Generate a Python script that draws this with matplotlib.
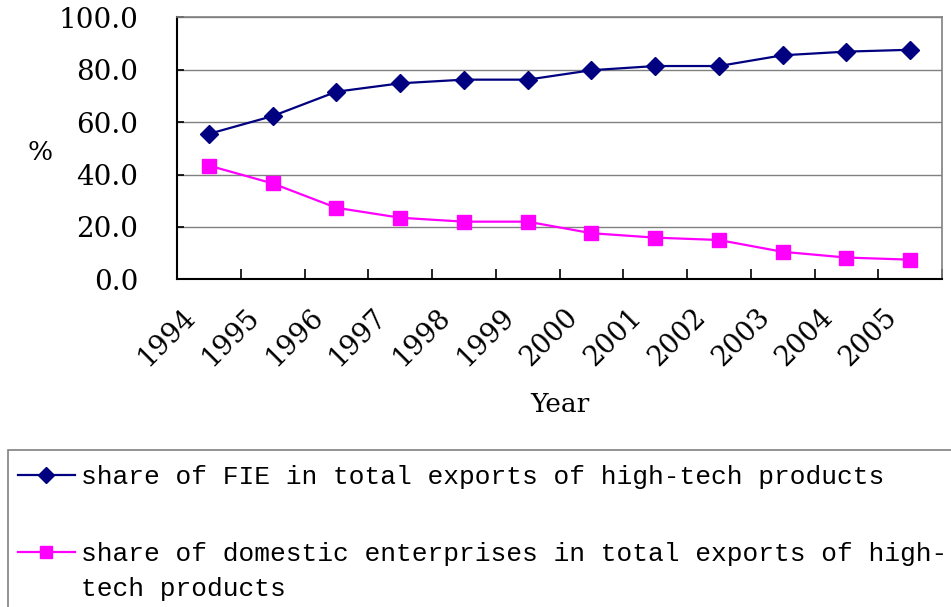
import matplotlib
matplotlib.use("Agg")
import matplotlib.pyplot as plt
import matplotlib.transforms as mtransforms
from matplotlib.patches import Rectangle
import numpy as np

years = ["1994", "1995", "1996", "1997", "1998", "1999", "2000", "2001", "2002", "2003", "2004", "2005"]
fie_share = [55.5, 62.3, 71.6, 74.8, 76.2, 76.2, 79.8, 81.4, 81.4, 85.5, 86.9, 87.6]
domestic_share = [43.4, 36.6, 27.3, 23.5, 22.0, 22.0, 17.6, 15.9, 15.0, 10.5, 8.3, 7.5]
yticks = [0, 20, 40, 60, 80, 100]
label_fie = "share of FIE in total exports of high-tech products"
label_dom_1 = "share of domestic enterprises in total exports of high-"
label_dom_2 = "tech products"

FONT = "DejaVu Serif"
MONO = "Liberation Mono"
plt.rcParams["font.family"] = [FONT, "DejaVu Sans"]

fig = plt.figure(figsize=(9.51, 6.07), dpi=100)
ax = fig.add_axes([177/951, 1-279.3/607, (942-177)/951, (279.3-17.3)/607])

x = np.arange(len(years))
l1, = ax.plot(x, fie_share, color="#000080", lw=1.6, marker="D", markersize=9.5, zorder=3)
l2, = ax.plot(x, domestic_share, color="#FF00FF", lw=1.6, marker="s", markersize=10, zorder=3)

ax.set_xlim(-0.5, len(years) - 0.5)
ax.set_ylim(0, 100)
ax.set_yticks(yticks)
ax.set_yticklabels([f"{v:.1f}" for v in yticks], fontsize=20)
ax.yaxis.grid(True, color="#808080", lw=1)
ax.set_axisbelow(True)

ax.set_xticks(x)
ax.set_xticklabels(years, fontsize=19.5, rotation=45, ha="right", va="center", rotation_mode="anchor")
ax.tick_params(axis="x", which="major", length=0, pad=0)
offset = mtransforms.ScaledTranslation(-12.5/72, -24/72, fig.dpi_scale_trans)
for lab in ax.get_xticklabels():
    lab.set_transform(lab.get_transform() + offset)
ax.set_xticks(np.arange(-0.5, len(years)), minor=True)
ax.tick_params(axis="x", which="minor", direction="in", length=7, width=1.2, color="black")
ax.tick_params(axis="y", direction="in", length=5, width=1.2, pad=28)

for s in ["top", "right"]:
    ax.spines[s].set_color("#808080")
    ax.spines[s].set_linewidth(1.2)
for s in ["left", "bottom"]:
    ax.spines[s].set_color("black")
    ax.spines[s].set_linewidth(1.5)

ax.set_xlabel("Year", fontsize=19, va="center")
ax.xaxis.set_label_coords(0.5, (279.3 - 405) / 262)
ax.set_ylabel("%", fontsize=19, rotation=0, va="center", ha="center")
ax.yaxis.set_label_coords((40 - 177) / 765, (279.3 - 152) / 262)

fig.patches.append(Rectangle((8/951, -0.02), 1.0, (1 - 450/607) + 0.02,
                             transform=fig.transFigure, fill=False, edgecolor="#808080", lw=1.2))

LEG_SIZE = 18.9
leg = fig.legend([l1, l2], [label_fie, label_dom_1], loc="upper left",
                 bbox_to_anchor=(18/951, 1 - 465/607), frameon=False,
                 prop={"family": MONO, "size": LEG_SIZE},
                 handlelength=2.17, handletextpad=0.24, labelspacing=2.03,
                 borderaxespad=0, borderpad=0, numpoints=1, markerscale=0.85)

fig.canvas.draw()
t2 = leg.get_texts()[1]
bb = t2.get_window_extent()
inv = fig.transFigure.inverted()
x0, y0 = inv.transform((bb.x0, bb.y0))
fig.text(x0, y0 - 35/607, label_dom_2, family=MONO, fontsize=LEG_SIZE, ha="left", va="bottom",
         transform=fig.transFigure)

fig.savefig("out.png", dpi=100)
